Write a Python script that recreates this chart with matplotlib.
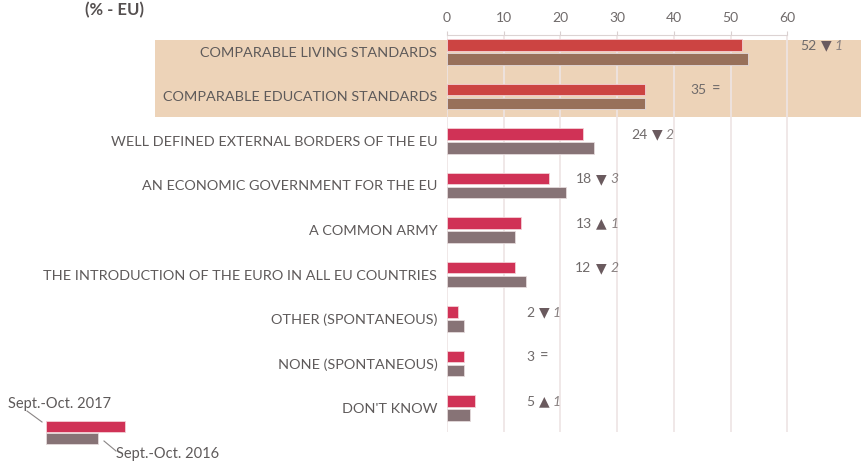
import matplotlib
matplotlib.use("Agg")
import matplotlib.pyplot as plt
from matplotlib.patches import Rectangle
import numpy as np

plt.rcParams['font.family'] = ['Lato', 'DejaVu Sans']

categories = [
    "COMPARABLE LIVING STANDARDS",
    "COMPARABLE EDUCATION STANDARDS",
    "WELL DEFINED EXTERNAL BORDERS OF THE EU",
    "AN ECONOMIC GOVERNMENT FOR THE EU",
    "A COMMON ARMY",
    "THE INTRODUCTION OF THE EURO IN ALL EU COUNTRIES",
    "OTHER (SPONTANEOUS)",
    "NONE (SPONTANEOUS)",
    "DON'T KNOW",
]
values_2017 = [52, 35, 24, 18, 13, 12, 2, 3, 5]
values_2016 = [53, 35, 26, 21, 12, 14, 3, 3, 4]
change_sign = ["down", "eq", "down", "down", "up", "down", "down", "eq", "up"]
change_val = ["1", "", "2", "3", "1", "2", "1", "", "1"]
highlighted = [True, True, False, False, False, False, False, False, False]

# where the "52 ▼ 1" labels sit (triangle centre, in axis units)
label_x = [66.8, 47.4, 37.0, 27.2, 27.2, 27.2, 17.1, 17.1, 17.1]

red_hi, brown_hi = "#CC4442", "#98705A"
red, grey = "#D03256", "#877376"
band_col = "#EDD3B8"
text_col = "#5E5A5A"

W, H = 861, 463
fig = plt.figure(figsize=(W / 100, H / 100), dpi=100)
px0, px_top, px_bot = 447, 35, 432
ax = fig.add_axes([px0 / W, 1 - px_bot / H, 1 - px0 / W, (px_bot - px_top) / H])
ax.set_facecolor("none")

row_px = 44.5
y_top = (px_top - 52) / row_px
y_bot = (px_bot - 52) / row_px
ax.set_xlim(0, 73)
ax.set_ylim(y_bot, y_top)

n = len(categories)
y = np.arange(n)
bh = 0.255
off = 0.155

c17 = [red_hi if h else red for h in highlighted]
c16 = [brown_hi if h else grey for h in highlighted]
ax.barh(y - off, values_2017, height=bh, color=c17, edgecolor="#F3D0D6", linewidth=0.6, zorder=3)
ax.barh(y + off, values_2016, height=bh, color=c16, edgecolor="#E4DADB", linewidth=0.6, zorder=3)

# highlight band behind the first two rows
x_left = (155 - px0) / (W - px0) * 73
ax.add_patch(Rectangle((x_left, (40 - 52) / row_px), 73 - x_left + 1, (117 - 40) / row_px,
                       facecolor=band_col, edgecolor="none", clip_on=False, zorder=0.5))

# grid
for g in range(0, 61, 10):
    ax.plot([g, g], [y_top, y_bot], color="#EDE4E4", lw=1.2, zorder=1, solid_capstyle="butt")

ax.xaxis.tick_top()
ax.set_xticks(range(0, 61, 10))
ax.tick_params(axis="x", colors="#D9CFCF", labelcolor="#6F6A6A", labelsize=10, length=3,
               direction="out", pad=5)
for s in ["right", "bottom", "left"]:
    ax.spines[s].set_visible(False)
ax.spines["top"].set_color("#DCD3D3")
ax.spines["top"].set_bounds(0, 60)

ax.set_yticks(y)
ax.set_yticklabels(categories)
ax.tick_params(axis="y", length=0, pad=7, labelsize=10.4, labelcolor=text_col)

# change labels
for i in range(n):
    yy = i - 0.14
    ax.annotate(str(values_2017[i]), (label_x[i], yy), xytext=(-7, 0), textcoords="offset points",
                ha="right", va="center", fontsize=10, color="#6F6A6A", zorder=4)
    if change_sign[i] == "eq":
        ax.annotate("=", (label_x[i], yy), ha="center", va="center", fontsize=10.5,
                    color="#6F6A6A", zorder=4)
    else:
        sym = "▼" if change_sign[i] == "down" else "▲"
        ax.annotate(sym, (label_x[i], yy), ha="center", va="center", fontsize=10,
                    color="#6A5A5E", family=["DejaVu Sans"], zorder=4)
        ax.annotate(change_val[i], (label_x[i], yy), xytext=(6.5, 0), textcoords="offset points",
                    ha="left", va="center", fontsize=10, style="italic", color="#888080", zorder=4)

fig.text(85 / W, 1 - 10 / H, "(% - EU)", fontsize=12, fontweight="bold", color="#555050",
         ha="left", va="center")

# legend
fig.patches.append(Rectangle((46 / W, 1 - 432 / H), 79 / W, 11 / H, transform=fig.transFigure,
                             facecolor=red, edgecolor="#F3D0D6", lw=0.6))
fig.patches.append(Rectangle((46 / W, 1 - 444 / H), 52 / W, 11 / H, transform=fig.transFigure,
                             facecolor=grey, edgecolor="#E4DADB", lw=0.6))
fig.text(8 / W, 1 - 404 / H, "Sept.-Oct. 2017", fontsize=10.5, color=text_col, ha="left", va="center")
fig.text(116 / W, 1 - 454 / H, "Sept.-Oct. 2016", fontsize=10.5, color=text_col, ha="left", va="center")
fig.add_artist(plt.Line2D([27 / W, 42 / W], [1 - 411 / H, 1 - 422 / H], color="#8A8585", lw=0.8))
fig.add_artist(plt.Line2D([104 / W, 116 / W], [1 - 441 / H, 1 - 451 / H], color="#8A8585", lw=0.8))

fig.savefig("out.png", dpi=100)
